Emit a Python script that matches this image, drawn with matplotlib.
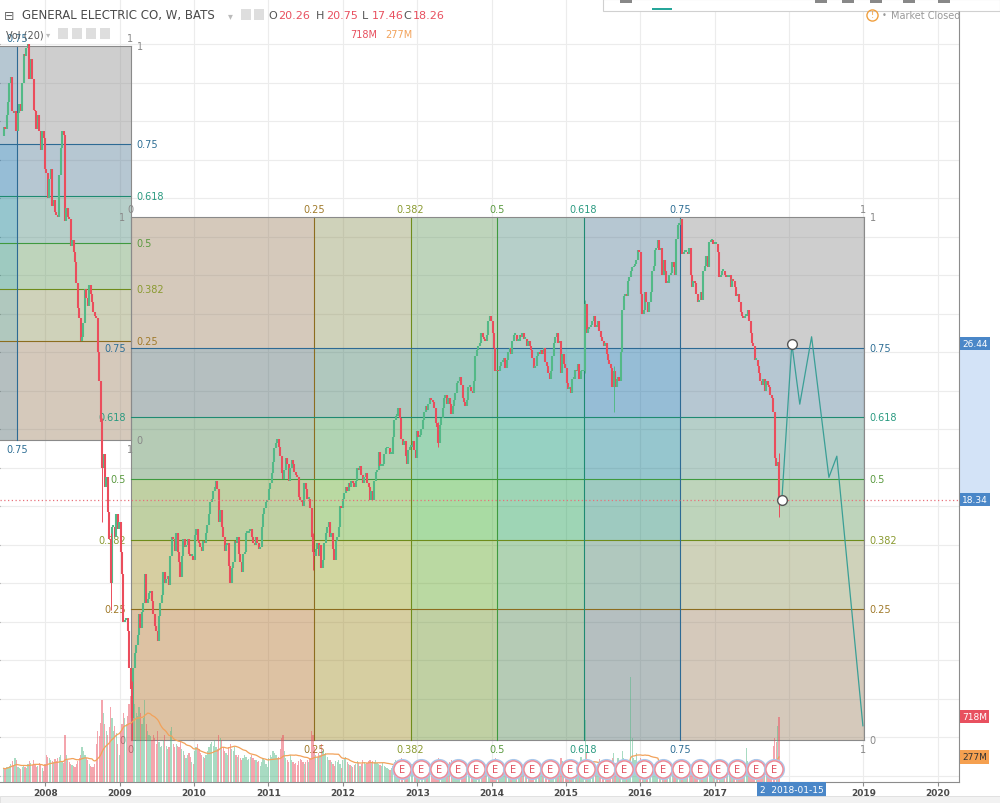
import numpy as np
import pandas as pd
import matplotlib
matplotlib.use("Agg")
import matplotlib.pyplot as plt
import matplotlib.dates as mdates
import matplotlib.transforms as mtransforms
from matplotlib.patches import Rectangle
from matplotlib.lines import Line2D
from matplotlib.ticker import FormatStrFormatter

plt.rcParams['font.family'] = ['DejaVu Sans']

# weekly bars (Monday dates), GE on BATS
first_week = '2007-06-11'
first_open = 37.2

close_2007 = [37.7, 37.6, 38.3, 39.0, 40.0, 40.3, 38.5, 38.4, 38.5, 37.5,
              38.4, 38.9, 38.5, 40.0, 41.5, 41.4, 41.8, 42.0, 40.2, 41.2,
              40.2, 38.6, 38.5, 37.6, 38.3, 37.5, 36.5, 37.5, 37.1, 35.5]
close_2008 = [35.3, 34.0, 35.0, 35.5, 33.6, 33.9, 33.3, 33.1, 33.0, 35.2, 36.6, 37.5,
              37.3, 32.8, 33.5, 33.0, 32.9, 31.5, 31.8, 31.2, 30.7, 29.6, 28.3, 27.8, 26.6,
              26.8, 27.5, 29.3, 28.8, 28.4, 29.5, 29.0, 28.6, 28.1, 27.9, 27.8, 26.0, 24.5,
              22.4, 20.0, 20.7, 19.0, 19.5, 17.7, 16.3, 14.0, 16.9, 16.9, 16.4, 17.6, 16.8,
              17.2]
close_2009 = [15.6, 14.5, 12.0, 12.1, 12.2, 11.5, 9.6, 8.5, 7.0, 9.6, 10.4, 10.8,
              11.3, 12.4, 11.7, 12.5, 13.0, 14.5, 13.0, 13.2, 13.5, 13.6, 13.1, 12.4, 11.8,
              11.5, 11.0, 12.3, 13.0, 13.4, 14.6, 14.0, 14.2, 14.4, 13.9, 15.4, 16.4, 16.3,
              15.7, 16.6, 15.6, 15.1, 14.3, 15.4, 16.3, 15.9, 16.0, 16.3, 15.5, 15.4, 15.4,
              15.2]
close_2010 = [16.5, 16.8, 16.2, 16.1, 15.9, 15.7, 16.2, 16.1, 16.6, 17.0, 17.6, 18.2,
              18.4, 18.8, 19.0, 19.3, 18.9, 17.2, 17.8, 16.9, 16.4, 15.7, 16.0, 16.1, 14.9,
              14.0, 14.8, 15.1, 16.2, 16.1, 16.4, 15.5, 15.1, 14.6, 15.5, 15.6, 16.6, 16.6,
              16.7, 16.8, 16.4, 16.1, 16.0, 16.4, 16.1, 15.8, 15.9, 16.9, 17.6, 17.9, 18.2,
              18.3]
close_2011 = [18.9, 19.2, 19.7, 20.3, 21.0, 21.3, 21.5, 21.1, 20.6, 19.7, 19.4, 19.9,
              20.5, 20.2, 19.3, 20.0, 20.4, 20.2, 19.8, 19.6, 19.5, 18.5, 18.3, 18.2, 18.0,
              19.2, 18.9, 18.4, 18.4, 17.9, 16.4, 15.6, 15.4, 15.8, 16.1, 15.4, 16.0, 14.8,
              15.2, 16.1, 16.6, 16.9, 17.2, 16.4, 16.6, 15.8, 15.2, 16.2, 16.4, 16.9, 18.0,
              17.9]
close_2012 = [18.4, 18.7, 19.0, 18.8, 19.2, 19.0, 19.3, 19.2, 19.0, 19.3, 20.0, 19.9, 20.1,
              19.6, 19.2, 19.5, 19.7, 19.2, 19.0, 18.3, 18.8, 18.3, 19.3, 19.8, 19.9, 20.8,
              20.1, 20.1, 20.2, 20.7, 21.0, 21.0, 21.0, 20.7, 20.7, 21.6, 22.5, 22.7, 22.7,
              23.1, 22.6, 21.5, 21.2, 21.4, 20.6, 20.2, 20.9, 21.1, 21.1, 21.4, 20.9, 20.5,
              21.9]
close_2013 = [21.6, 21.7, 22.0, 22.5, 22.9, 23.2, 23.0, 23.3, 23.6, 23.5, 23.4, 23.1,
              22.3, 22.1, 21.3, 22.2, 22.6, 23.1, 23.6, 23.8, 23.3, 23.6, 23.3, 22.8, 23.2,
              23.5, 23.9, 24.4, 24.5, 24.7, 24.3, 23.6, 23.4, 23.2, 23.5, 24.2, 24.2, 24.0,
              23.9, 24.5, 25.8, 26.1, 26.3, 26.5, 27.0, 26.8, 26.7, 26.6, 26.9, 27.6, 27.9,
              27.6]
close_2014 = [27.0, 26.2, 25.0, 25.1, 25.0, 25.3, 25.5, 25.5, 25.7, 25.2, 25.6, 26.0,
              26.2, 25.9, 26.6, 26.9, 26.9, 26.6, 26.6, 26.9, 26.8, 27.0, 26.7, 26.7, 26.3,
              26.6, 26.3, 26.1, 25.7, 25.2, 25.3, 25.8, 26.0, 25.9, 26.1, 25.9, 26.2, 25.5,
              25.3, 24.9, 24.6, 25.0, 25.8, 26.5, 26.8, 27.0, 26.5, 26.6, 24.9, 25.9, 25.4,
              25.2]
close_2015 = [24.4, 24.1, 24.2, 23.9, 24.6, 24.6, 25.1, 25.0, 25.4, 24.6, 25.0, 25.0,
              25.0, 28.5, 27.0, 27.2, 27.3, 27.4, 27.6, 27.9, 27.3, 27.4, 27.6, 27.1, 26.8,
              26.6, 26.3, 26.5, 25.9, 25.6, 25.4, 25.2, 24.2, 25.0, 24.2, 24.6, 24.7, 24.5,
              26.0, 28.2, 28.9, 29.0, 28.9, 29.7, 29.9, 30.2, 30.4, 30.5, 30.6, 30.8, 31.3,
              31.2]
close_2016 = [29.0, 28.0, 28.2, 29.1, 28.6, 28.1, 28.6, 29.1, 30.2, 30.5, 31.3, 31.4,
              31.8, 31.3, 31.4, 30.0, 30.8, 30.2, 29.6, 29.6, 30.0, 30.1, 30.7, 30.4, 30.0,
              31.9, 32.6, 32.6, 32.9, 31.1, 31.2, 31.2, 31.2, 31.1, 31.4, 30.0, 29.4, 29.7,
              29.6, 29.0, 28.6, 28.7, 29.1, 28.7, 30.2, 30.5, 31.0, 30.4, 31.7, 31.8, 31.8,
              31.6]
close_2017 = [31.6, 31.6, 31.2, 29.9, 30.0, 30.2, 30.2, 30.0, 29.9, 29.9, 30.0, 29.4,
              29.8, 29.7, 29.4, 28.9, 29.0, 28.6, 28.1, 27.9, 27.8, 27.9, 27.9, 28.2, 27.6,
              27.0, 26.5, 26.3, 25.6, 25.6, 25.3, 24.9, 24.5, 24.3, 24.6, 24.0, 24.5, 24.3,
              24.2, 23.8, 23.6, 22.9, 20.5, 20.1, 20.3, 18.26]

# weekly volume, millions
vol_2007 = [150, 140, 160, 170, 180, 200, 230, 190, 260, 240, 170, 150, 140, 160, 190,
            170, 150, 200, 230, 210, 190, 240, 200, 170, 180, 210, 190, 150, 120, 200]
vol_2008 = [300, 280, 260, 240, 230, 220, 250, 230, 260, 280, 300, 220, 210, 520, 300, 240,
            220, 200, 190, 180, 170, 200, 230, 260, 300, 380, 340, 300, 260, 240, 200, 180,
            170, 160, 200, 420, 560, 500, 650, 900, 760, 640, 560, 520, 600, 820, 700, 560,
            620, 540, 420, 300]
vol_2009 = [560, 640, 760, 700, 640, 720, 860, 940, 1050, 900, 860, 760, 720, 820, 760, 640,
            700, 900, 640, 560, 520, 500, 460, 520, 480, 420, 560, 440, 380, 400, 460, 520,
            400, 360, 380, 560, 600, 420, 380, 420, 400, 380, 440, 360, 340, 300, 260, 300,
            320, 280, 220, 200]
vol_2010 = [340, 380, 420, 360, 320, 300, 280, 260, 300, 340, 380, 420, 440, 400, 460, 380,
            360, 520, 480, 460, 380, 340, 320, 300, 380, 420, 360, 340, 380, 300, 280, 300,
            260, 240, 260, 300, 280, 240, 250, 280, 300, 260, 240, 240, 220, 230, 180, 220,
            260, 240, 200, 160]
vol_2011 = [260, 300, 280, 340, 320, 300, 260, 280, 360, 480, 520, 340, 260, 240, 220, 300,
            240, 220, 200, 210, 190, 230, 250, 240, 220, 200, 220, 240, 220, 260, 560, 520,
            380, 300, 280, 320, 300, 420, 340, 300, 320, 280, 240, 240, 220, 200, 180, 230,
            220, 240, 200, 150]
vol_2012 = [240, 260, 280, 220, 200, 190, 180, 170, 190, 200, 230, 210, 180, 200, 240, 220,
            200, 210, 230, 240, 220, 230, 220, 240, 210, 200, 190, 180, 210, 180, 160, 150,
            140, 130, 150, 180, 220, 240, 190, 200, 190, 260, 220, 210, 220, 200, 150, 170,
            180, 190, 220, 160, 180]
vol_2013 = [200, 210, 190, 180, 200, 170, 190, 200, 180, 210, 190, 160, 220, 200, 260, 210,
            190, 180, 170, 160, 180, 200, 220, 240, 190, 170, 160, 190, 180, 150, 140, 130,
            140, 130, 150, 170, 190, 160, 150, 160, 220, 190, 170, 160, 150, 140, 110, 170,
            180, 200, 150, 140]
vol_2014 = [170, 190, 260, 220, 210, 190, 170, 160, 150, 170, 180, 160, 150, 160, 200, 170,
            160, 150, 140, 130, 120, 150, 140, 160, 130, 120, 140, 180, 150, 160, 150, 130,
            120, 110, 130, 150, 220, 160, 170, 210, 240, 220, 190, 150, 140, 130, 100, 160,
            260, 230, 150, 110]
vol_2015 = [170, 200, 240, 230, 180, 170, 160, 190, 170, 200, 280, 180, 200, 680, 320, 220,
            180, 170, 150, 160, 140, 170, 160, 250, 160, 170, 180, 220, 190, 170, 160, 150,
            260, 320, 210, 180, 260, 200, 220, 340, 260, 230, 240, 200, 230, 1150, 480, 260,
            240, 320, 180, 160]
vol_2016 = [260, 240, 220, 240, 200, 190, 160, 170, 160, 150, 200, 130, 140, 130, 150, 170,
            160, 140, 130, 120, 110, 110, 120, 160, 200, 180, 140, 130, 170, 150, 110, 100,
            90, 100, 100, 160, 170, 130, 120, 120, 110, 150, 130, 150, 170, 140, 110, 160,
            190, 140, 100, 90]
vol_2017 = [140, 120, 150, 180, 130, 120, 110, 130, 140, 130, 160, 120, 130, 120, 140, 160,
            170, 150, 160, 170, 150, 140, 370, 230, 200, 170, 160, 170, 250, 210, 190, 180,
            210, 170, 170, 180, 200, 170, 160, 180, 240, 400, 480, 440, 620, 718]

# long wicks that stand out on the chart
wick_weeks = ['2008-10-06', '2008-11-17', '2009-03-02', '2011-08-08', '2013-04-15',
              '2015-04-06', '2015-08-24', '2017-11-13']
wick_hi = [22.6, 16.6, 8.9, 16.6, 22.4, 28.7, 25.3, 20.75]
wick_lo = [17.2, 12.6, 5.87, 14.7, 21.1, 24.9, 22.9, 17.46]

earnings = ['2012-10-19', '2013-01-18', '2013-04-19', '2013-07-19', '2013-10-18',
            '2014-01-17', '2014-04-17', '2014-07-18', '2014-10-17', '2015-01-23',
            '2015-04-10', '2015-07-17', '2015-10-16', '2016-01-22', '2016-04-22',
            '2016-07-22', '2016-10-21', '2017-01-20', '2017-04-21', '2017-07-21',
            '2017-10-20']

# hand drawn projection path
proj_dates = ['2017-11-27', '2018-01-15', '2018-02-23', '2018-04-22', '2018-07-16',
              '2018-08-24', '2018-12-30']
proj_prices = [18.34, 26.44, 23.3, 26.8, 19.5, 20.6, 6.6]

last_price = 18.34
proj_tag = 26.44
vol_last, vol_ma = 718, 277

fib_levels = [0, 0.25, 0.382, 0.5, 0.618, 0.75, 1]
big_box = ('2009-02-23', '2019-01-02', 5.87, 33.0)
small_box = ('2003-01-21', '2009-02-23', 21.44, 41.9)

ohlc = [('O', '20.26'), ('H', '20.75'), ('L', '17.46'), ('C', '18.26')]
ohlc_x = [268, 316, 362, 403]

year_ticks = list(range(2008, 2021))

fill_c = {0.25: '#ae6c22', 0.382: '#909d16', 0.5: '#2ea922', 0.618: '#00906c',
          0.75: '#005f9d', 1: '#8a8a8a'}
line_c = {0: '#8a8a8a', 0.25: '#8c6d1f', 0.382: '#6f8c1c', 0.5: '#3f9a3f',
          0.618: '#1f8a72', 0.75: '#2d6a94', 1: '#8a8a8a'}
text_c = {0: '#888888', 0.25: '#a07a2a', 0.382: '#8a9a30', 0.5: '#5a9a40',
          0.618: '#2a9a80', 0.75: '#2f6f95', 1: '#888888'}
UP, DOWN = '#53b987', '#eb4d5c'

closes = np.array(close_2007 + close_2008 + close_2009 + close_2010 + close_2011 + close_2012
                  + close_2013 + close_2014 + close_2015 + close_2016 + close_2017)
vols = np.array(vol_2007 + vol_2008 + vol_2009 + vol_2010 + vol_2011 + vol_2012
                + vol_2013 + vol_2014 + vol_2015 + vol_2016 + vol_2017, dtype=float)
assert len(closes) == len(vols)
weeks = pd.date_range(first_week, periods=len(closes), freq='W-MON')
x = mdates.date2num(weeks)
opens = np.r_[first_open, closes[:-1]]
up = closes >= opens

fig = plt.figure(figsize=(10, 8.04), dpi=100)
ax = fig.add_axes([0, 21 / 804, 0.959, 783 / 804])
ax.set_xlim(mdates.datestr2num('2007-05-24'), mdates.datestr2num('2020-04-15'))
ax.set_ylim(3.68, 44.34)
xmin = ax.get_xlim()[0]


def fx(px):
    return px / 1000


def fy(py):
    return 1 - py / 804


def off(dx, dy):
    return mtransforms.offset_copy(ax.transData, fig=fig, x=dx, y=dy, units='dots')


def gann_box(box):
    t0, t1 = mdates.datestr2num(box[0]), mdates.datestr2num(box[1])
    p0, p1 = box[2], box[3]
    w, h = t1 - t0, p1 - p0
    for a, b in zip(fib_levels[:-1], fib_levels[1:]):
        ax.add_patch(Rectangle((t0 + a * w, p0), (b - a) * w, h, fc=fill_c[b],
                               alpha=0.23, lw=0, zorder=1))
        ax.add_patch(Rectangle((t0, p0 + a * h), w, (b - a) * h, fc=fill_c[b],
                               alpha=0.23, lw=0, zorder=1))
    for lv in fib_levels:
        tx, py = t0 + lv * w, p0 + lv * h
        ax.plot([tx, tx], [p0, p1], color=line_c[lv], lw=0.8, zorder=2)
        ax.plot([t0, t1], [py, py], color=line_c[lv], lw=0.8, zorder=2)
        s = f'{lv:g}'
        kw = dict(color=text_c[lv], fontsize=7, zorder=3)
        if tx - 20 > xmin:  # labels left of the visible range are never seen
            ax.text(tx, p1, s, transform=off(0, 3), ha='center', va='bottom', **kw)
            ax.text(tx, p0, s, transform=off(0, -4), ha='center', va='top', **kw)
        if t0 > xmin:
            ax.text(t0, py, s, transform=off(-5, 0), ha='right', va='center', **kw)
        ax.text(t1, py, s, transform=off(6, 0), ha='left', va='center', **kw)


gann_box(small_box)
gann_box(big_box)

# candles
lo = np.minimum(opens, closes)
hi = np.maximum(np.maximum(opens, closes), lo + 0.1)
cols = np.where(up, UP, DOWN)
ax.vlines(x, lo, hi, colors=cols, lw=1.5, zorder=4)
wx = mdates.datestr2num(wick_weeks)
widx = [int(np.argmin(np.abs(x - v))) for v in wx]
ax.vlines(x[widx], wick_lo, wick_hi, colors=cols[widx], lw=0.7, zorder=4)

ax.axhline(last_price, color='#e8707a', ls=(0, (1, 2)), lw=0.9, zorder=5)

px = mdates.datestr2num(proj_dates)
ax.plot(px, proj_prices, color='#3a9f96', lw=0.9, zorder=6)
ax.plot(px[:2], proj_prices[:2], 'o', ms=7, mfc='white', mec='#555555', mew=1.0, zorder=7)

# axes styling
ax.set_yticks(np.arange(4, 43, 2))
ax.yaxis.tick_right()
ax.yaxis.set_major_formatter(FormatStrFormatter('%.2f'))
ax.set_xticks(mdates.datestr2num([f'{y}-01-01' for y in year_ticks]))
ax.set_xticklabels(['' if y == 2018 else str(y) for y in year_ticks], fontweight='bold')
ax.grid(True, color='#ececec', lw=0.8)
ax.set_axisbelow(True)
for s in ('left', 'top'):
    ax.spines[s].set_visible(False)
for s in ('right', 'bottom'):
    ax.spines[s].set_color('#8c8c8c')
ax.tick_params(axis='y', length=3, width=0.8, color='#8c8c8c', labelsize=6.5,
               labelcolor='#4a4a4a', pad=2)
ax.tick_params(axis='x', length=3, width=0.8, color='#8c8c8c', labelsize=6.5,
               labelcolor='#4a4a4a', pad=1.5)

yb = mtransforms.blended_transform_factory(ax.transAxes, ax.transData)
for v in (proj_tag, last_price):
    ax.text(1.003, v, f'{v:.2f}', transform=yb, color='white', fontsize=6.5, ha='left',
            va='center', zorder=8,
            bbox=dict(boxstyle='square,pad=0.25', fc='#4a87c8', ec='none'))
xb = mtransforms.blended_transform_factory(ax.transData, ax.transAxes)
ax.text(mdates.datestr2num('2018-01-15'), -0.004, '2  2018-01-15', transform=xb,
        color='white', fontsize=6.5, ha='center', va='top', zorder=8,
        bbox=dict(boxstyle='square,pad=0.3', fc='#4a87c8', ec='none'))

# volume pane
vol = ax.twinx()
vol.set_ylim(0, 8600)
vol.set_yticks([])
vol.patch.set_visible(False)
for s in vol.spines.values():
    s.set_visible(False)
vcols = np.where(up[:, None], [[0.325, 0.725, 0.529, 0.5]], [[0.922, 0.302, 0.361, 0.5]])
vol.bar(x, vols, width=6.0, color=vcols, lw=0, zorder=2)
ma = pd.Series(vols).rolling(20, min_periods=1).mean()
vol.plot(x, ma, color='#f2a25a', lw=0.9, zorder=3)

eb = mtransforms.blended_transform_factory(vol.transData, vol.transAxes)
ex = mdates.datestr2num(earnings)
for e in ex:
    vol.plot([e], [0.0166], 'o', transform=eb, ms=14.2, mfc='white', mec='#a9c7ea',
             mew=1.0, zorder=5)
    vol.plot([e], [0.0166], 'o', transform=eb, ms=12.4, mfc='white', mec='#ec8a97',
             mew=1.1, zorder=5)
    vol.text(e, 0.0166, 'E', transform=eb, color='#e0505f', fontsize=7, ha='center',
             va='center', zorder=6)

vb = mtransforms.blended_transform_factory(vol.transAxes, vol.transData)
vol.text(1.003, vol_last, f'{vol_last}M', transform=vb, color='white', fontsize=6.5,
         ha='left', va='center', zorder=8,
         bbox=dict(boxstyle='square,pad=0.25', fc='#e8505f', ec='none'))
vol.text(1.003, vol_ma, f'{vol_ma}M', transform=vb, color='#333333', fontsize=6.5,
         ha='left', va='center', zorder=8,
         bbox=dict(boxstyle='square,pad=0.25', fc='#f5a050', ec='none'))

# right scale highlight between the two tags
fig.add_artist(Rectangle((fx(959), fy(500)), 0.031, 156 / 804, fc='#d3e3f7', lw=0,
                         transform=fig.transFigure, zorder=-1))
# bottom strip
fig.add_artist(Rectangle((0, 0), 1, 7 / 804, fc='#f2f2f2', ec='#dddddd', lw=0.6,
                         transform=fig.transFigure, zorder=1))

# header
fig.text(fx(4), fy(16), '\u229f', fontsize=9, color='#666666', va='center')
fig.text(fx(22), fy(16), 'GENERAL ELECTRIC CO, W, BATS', fontsize=8.5, color='#4a4a4a',
         va='center')
fig.text(fx(228), fy(16), '\u25be', fontsize=7, color='#bbbbbb', va='center')
for ix in (241, 254):
    fig.add_artist(Rectangle((fx(ix), fy(21)), 0.010, 11 / 804, fc='#dedede', lw=0,
                             transform=fig.transFigure))
for (k, v), ox in zip(ohlc, ohlc_x):
    fig.text(fx(ox), fy(16), k, fontsize=8, color='#555555', va='center')
    fig.text(fx(ox + 10), fy(16), v, fontsize=8, color='#e8505f', va='center')
fig.text(fx(6), fy(35), 'Vol (20)', fontsize=7, color='#555555', va='center')
fig.text(fx(46), fy(35), '\u25be', fontsize=6, color='#bbbbbb', va='center')
for ix in (58, 72, 86, 100):
    fig.add_artist(Rectangle((fx(ix), fy(40)), 0.010, 11 / 804, fc='#dedede', lw=0,
                             transform=fig.transFigure))
fig.text(fx(350), fy(35), '718M', fontsize=7, color='#e8505f', va='center')
fig.text(fx(385), fy(35), '277M', fontsize=7, color='#f2a25a', va='center')

# toolbar stub and market status
fig.add_artist(Rectangle((fx(603), fy(12)), 0.397, 12 / 804, fc='white', ec='#d0d0d0',
                         lw=0.8, transform=fig.transFigure, zorder=2))
fig.add_artist(Rectangle((fx(652), fy(11)), 0.020, 2 / 804, fc='#26a69a', lw=0,
                         transform=fig.transFigure, zorder=3))
for ix in (620, 815, 842, 870, 903, 938):
    fig.add_artist(Rectangle((fx(ix), fy(4)), 0.012, 4 / 804, fc='#888888', lw=0,
                             transform=fig.transFigure, zorder=3))
fig.add_artist(Line2D([fx(872)], [fy(16)], marker='o', ms=8, mfc='none', mec='#f0a040',
                      mew=1.0, transform=fig.transFigure))
fig.text(fx(872), fy(16), '!', fontsize=6, color='#f0a040', ha='center', va='center')
fig.text(fx(884), fy(16), '\u2022', fontsize=6, color='#999999', ha='center', va='center')
fig.text(fx(891), fy(16), 'Market Closed', fontsize=7, color='#999999', va='center')

fig.savefig('out.png', dpi=100)
